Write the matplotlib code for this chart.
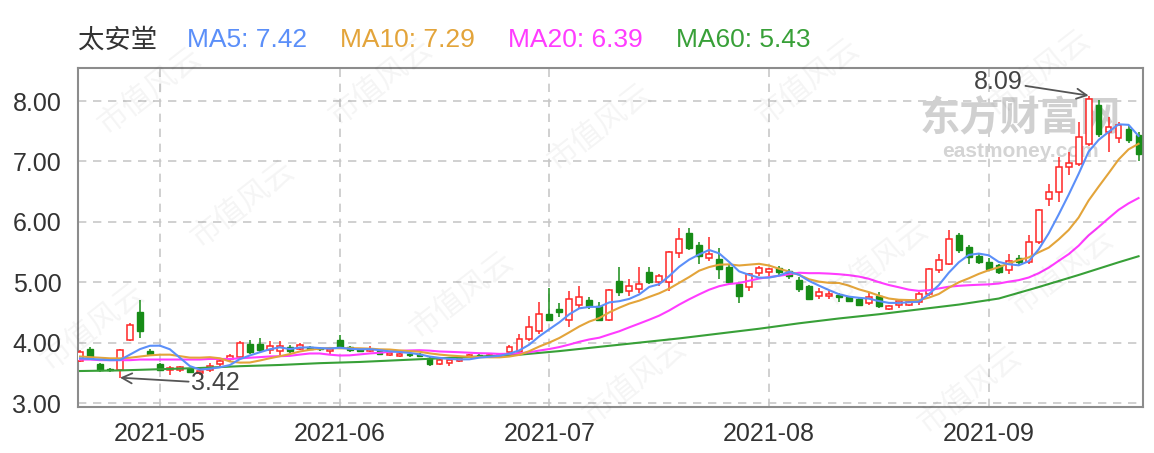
import numpy as np
import pandas as pd
import matplotlib
matplotlib.use("Agg")
import matplotlib.pyplot as plt

plt.rcParams["font.family"] = ["Liberation Sans", "Noto Sans CJK SC", "DejaVu Sans"]

# 交易日 (2021-04-21 ~ 2021-09-24, 去掉节假日)
name = "太安堂"
holidays = ["2021-05-03", "2021-05-04", "2021-05-05", "2021-06-14", "2021-09-20", "2021-09-21"]
dates = pd.bdate_range("2021-04-21", "2021-09-24")
dates = dates[~dates.isin(pd.to_datetime(holidays))]

opens = [3.69, 3.89, 3.65, 3.56, 3.54, 4.04, 4.50, 3.86, 3.65, 3.55,
         3.55, 3.56, 3.50, 3.55, 3.64, 3.73, 3.77, 3.97, 3.97, 3.87,
         3.86, 3.92, 3.90, 3.93, 3.91, 3.86, 4.05, 3.92, 3.89, 3.86,
         3.86, 3.80, 3.78, 3.81, 3.81, 3.75, 3.65, 3.67, 3.70, 3.76,
         3.80, 3.77, 3.76, 3.84, 3.85, 4.06, 4.20, 4.47, 4.56, 4.38,
         4.63, 4.70, 4.60, 4.38, 5.02, 4.86, 4.88, 5.17, 5.00, 5.00,
         5.49, 5.81, 5.61, 5.40, 5.38, 5.25, 4.97, 4.92, 5.15, 5.17,
         5.24, 5.19, 5.04, 4.93, 4.78, 4.77, 4.79, 4.75, 4.73, 4.66,
         4.78, 4.56, 4.62, 4.63, 4.67, 4.81, 5.20, 5.31, 5.78, 5.59,
         5.44, 5.34, 5.28, 5.20, 5.40, 5.33, 5.67, 6.38, 6.50, 6.90,
         6.96, 7.29, 7.93, 7.49, 7.38, 7.54, 7.43]
highs = [3.87, 3.92, 3.67, 3.58, 3.90, 4.32, 4.70, 3.90, 3.67, 3.62,
         3.62, 3.58, 3.55, 3.66, 3.74, 3.82, 4.03, 4.05, 4.08, 4.02,
         4.02, 3.96, 4.00, 3.95, 3.93, 3.92, 4.13, 3.95, 3.91, 3.94,
         3.88, 3.85, 3.83, 3.83, 3.83, 3.77, 3.74, 3.74, 3.77, 3.81,
         3.82, 3.81, 3.82, 3.96, 4.15, 4.44, 4.67, 4.91, 4.65, 4.85,
         4.93, 4.75, 4.68, 4.89, 5.25, 5.05, 5.25, 5.25, 5.13, 5.52,
         5.90, 5.90, 5.67, 5.75, 5.56, 5.30, 5.00, 5.16, 5.27, 5.24,
         5.27, 5.22, 5.08, 4.95, 4.90, 4.85, 4.82, 4.77, 4.75, 4.83,
         4.83, 4.63, 4.72, 4.70, 4.83, 5.24, 5.46, 5.87, 5.82, 5.62,
         5.46, 5.40, 5.31, 5.47, 5.45, 5.78, 6.22, 6.63, 7.07, 7.15,
         7.65, 8.09, 8.01, 7.73, 7.65, 7.60, 7.49]
lows = [3.68, 3.72, 3.52, 3.52, 3.42, 4.02, 4.08, 3.78, 3.53, 3.47,
        3.52, 3.49, 3.46, 3.52, 3.62, 3.70, 3.75, 3.82, 3.85, 3.81,
        3.80, 3.83, 3.87, 3.88, 3.86, 3.82, 3.90, 3.85, 3.84, 3.84,
        3.80, 3.78, 3.76, 3.77, 3.76, 3.62, 3.63, 3.62, 3.68, 3.74,
        3.76, 3.75, 3.74, 3.80, 3.82, 4.02, 4.15, 4.35, 4.42, 4.26,
        4.58, 4.55, 4.35, 4.35, 4.78, 4.78, 4.82, 4.97, 4.93, 4.86,
        5.40, 5.53, 5.31, 5.35, 5.05, 4.97, 4.65, 4.85, 5.10, 5.08,
        5.12, 5.05, 4.83, 4.72, 4.72, 4.73, 4.68, 4.67, 4.60, 4.62,
        4.58, 4.54, 4.58, 4.60, 4.63, 4.78, 5.15, 5.29, 5.48, 5.30,
        5.30, 5.18, 5.13, 5.14, 5.27, 5.30, 5.64, 6.27, 6.33, 6.77,
        6.93, 7.26, 7.40, 7.15, 7.30, 7.30, 7.00]
closes = [3.85, 3.75, 3.54, 3.54, 3.88, 4.30, 4.20, 3.82, 3.55, 3.58,
          3.60, 3.51, 3.53, 3.62, 3.70, 3.78, 4.00, 3.84, 3.88, 3.95,
          3.94, 3.86, 3.96, 3.90, 3.89, 3.90, 3.93, 3.87, 3.86, 3.90,
          3.82, 3.83, 3.81, 3.79, 3.78, 3.64, 3.72, 3.72, 3.75, 3.79,
          3.78, 3.79, 3.80, 3.93, 4.06, 4.26, 4.48, 4.38, 4.50, 4.73,
          4.75, 4.60, 4.38, 4.87, 4.83, 4.94, 4.97, 5.00, 5.10, 5.50,
          5.71, 5.56, 5.43, 5.47, 5.22, 5.00, 4.78, 5.14, 5.24, 5.22,
          5.17, 5.10, 4.89, 4.73, 4.83, 4.80, 4.76, 4.69, 4.63, 4.76,
          4.60, 4.61, 4.69, 4.68, 4.81, 5.22, 5.36, 5.72, 5.54, 5.42,
          5.33, 5.22, 5.17, 5.35, 5.33, 5.67, 6.20, 6.49, 6.91, 6.97,
          7.40, 8.04, 7.46, 7.57, 7.60, 7.36, 7.12]

# 均线起始段
ma5_head = [3.74, 3.73, 3.72, 3.71]
ma10_head = [3.77, 3.76, 3.75, 3.74, 3.74, 3.75, 3.77, 3.79, 3.80]
ma20_head = [3.72, 3.72, 3.71, 3.71, 3.71, 3.71, 3.72, 3.72, 3.72, 3.72,
             3.72, 3.72, 3.72, 3.73, 3.73, 3.73, 3.74, 3.75, 3.76]
ma60_days = list(range(0, 105, 4)) + [106]
ma60 = [3.53, 3.54, 3.56, 3.58, 3.61, 3.63, 3.66, 3.68, 3.71, 3.74,
        3.77, 3.80, 3.86, 3.93, 4.00, 4.07, 4.15, 4.23, 4.32, 4.40,
        4.47, 4.55, 4.63, 4.73, 4.92, 5.12, 5.33, 5.43]

c = pd.Series(closes)
ma5 = np.r_[ma5_head, c.rolling(5).mean().values[4:]]
ma10 = np.r_[ma10_head, c.rolling(10).mean().values[9:]]
ma20 = np.r_[ma20_head, c.rolling(20).mean().values[19:]]

col_ma5, col_ma10, col_ma20, col_ma60 = "#5b8ff9", "#e3a43a", "#ff3cff", "#38a038"
red, green = "#ff2626", "#178c17"

fig = plt.figure(figsize=(11.54, 4.53), dpi=100)
ax = fig.add_axes([0.0676, 0.1015, 0.9229, 0.7483])

x = np.arange(len(closes))
o = np.array(opens); h = np.array(highs); l = np.array(lows); cl = np.array(closes)
up = cl >= o
lo = np.minimum(o, cl); hi = np.maximum(o, cl)
body = np.maximum(hi - lo, 0.015)

# 影线
ax.vlines(x[up], l[up], lo[up], color=red, lw=1.1, zorder=3)
ax.vlines(x[up], hi[up], h[up], color=red, lw=1.1, zorder=3)
ax.vlines(x[~up], l[~up], h[~up], color=green, lw=1.1, zorder=3)
# 实体
ax.bar(x[up], body[up], bottom=lo[up], width=0.58, facecolor="white",
       edgecolor=red, lw=1.1, zorder=4)
ax.bar(x[~up], body[~up], bottom=lo[~up], width=0.58, facecolor=green,
       edgecolor=green, lw=1.0, zorder=4)

# 均线
ax.plot(ma60_days, ma60, color=col_ma60, lw=1.5, zorder=5)
ax.plot(x, ma20, color=col_ma20, lw=1.5, zorder=5)
ax.plot(x, ma10, color=col_ma10, lw=1.5, zorder=5)
ax.plot(x, ma5, color=col_ma5, lw=1.5, zorder=5)

# 最高最低标注
imin = int(np.argmin(l)); imax = int(np.argmax(h))
arrow = dict(arrowstyle="->", color="#555555", lw=1.3, shrinkA=0, shrinkB=0)
ax.annotate(f"{l[imin]:.2f}", xy=(imin, l[imin]), xytext=(69, -4),
            textcoords="offset points", ha="center", va="center",
            fontsize=18, color="#444444", arrowprops=arrow, zorder=6)
ax.annotate(f"{h[imax]:.2f}", xy=(imax, h[imax]), xytext=(-65, 10),
            textcoords="offset points", ha="center", va="center",
            fontsize=18, color="#444444", arrowprops=arrow, zorder=6)

# 坐标轴
ax.set_xlim(-0.2, 106.45)
ax.set_ylim(2.934, 8.546)
ax.set_yticks([3, 4, 5, 6, 7, 8])
ax.set_yticklabels([f"{v:.2f}" for v in [3, 4, 5, 6, 7, 8]])
month_start = [i for i in range(1, len(dates)) if dates[i].month != dates[i - 1].month]
ax.set_xticks(month_start)
ax.set_xticklabels([dates[i].strftime("%Y-%m") for i in month_start])
ax.tick_params(length=0, labelsize=18, colors="#333333")
ax.tick_params(axis="y", pad=12)
ax.tick_params(axis="x", pad=11)
ax.grid(True, color="#c8c8c8", lw=1.2, linestyle=(0, (5, 4)), zorder=0)
ax.set_axisbelow(True)
for s in ax.spines.values():
    s.set_color("#8c8c8c")
    s.set_linewidth(1.5)

# 水印
ax.text(0.885, 0.85, "东方财富网", transform=ax.transAxes, ha="center", va="center",
        fontsize=29, fontweight="bold", color="#d0d0d0", family=["Noto Sans CJK SC"], zorder=1)
ax.text(0.885, 0.755, "eastmoney.com", transform=ax.transAxes, ha="center", va="center",
        fontsize=15, fontweight="bold", color="#d4d4d4", zorder=1)
for wx, wy in [(0.13, 0.80), (0.21, 0.55), (0.40, 0.35), (0.55, 0.16), (0.52, 0.72),
               (0.70, 0.82), (0.76, 0.42), (0.90, 0.84), (0.92, 0.40), (0.08, 0.28),
               (0.33, 0.82), (0.84, 0.14)]:
    fig.text(wx, wy, "市值风云", ha="center", va="center", fontsize=22, rotation=38,
             color="#000000", alpha=0.045, family=["Noto Sans CJK SC"])

# 标题
hy = 1 - 40 / 453
fig.text(78 / 1154, hy, name, color="#333333", fontsize=19, va="center")
for px, lab, val, col in [(187, "MA5", ma5[-1], col_ma5), (340, "MA10", ma10[-1], col_ma10),
                          (508, "MA20", ma20[-1], col_ma20), (676, "MA60", ma60[-1], col_ma60)]:
    fig.text(px / 1154, hy, f"{lab}: {val:.2f}", color=col, fontsize=19, va="center")

fig.savefig("out.png", dpi=100)
